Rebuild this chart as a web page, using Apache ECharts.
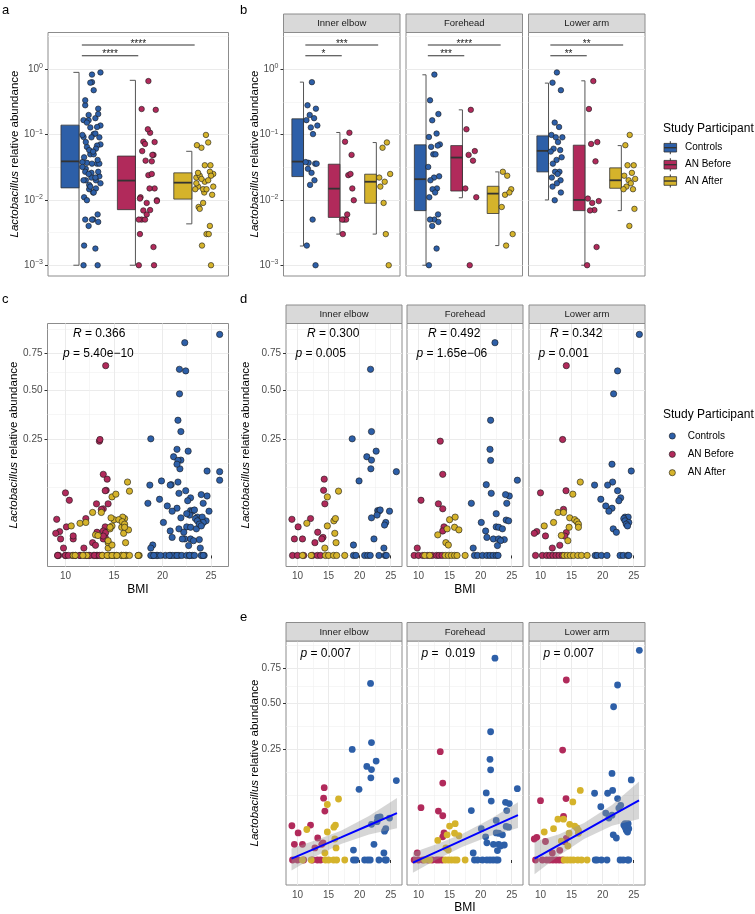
<!DOCTYPE html>
<html><head><meta charset="utf-8">
<script src="https://cdn.jsdelivr.net/npm/echarts@6/dist/echarts.min.js"></script>
<style>html,body{margin:0;padding:0;background:#fff}#c{width:755px;height:914px}</style>
</head><body><div id="c"></div>
<script>
// ---------------- DATA ----------------
const GROUPS = ['Controls', 'AN Before', 'AN After'];
const SITES = ['Inner elbow', 'Forehead', 'Lower arm'];

// [BMI, Lactobacillus relative abundance]
const IE_CONTROLS = [[21.75,0.637],[21.9,0.282],[18.8,0.25],[22.65,0.2],[21.15,0.179],[21.9,0.167],[21.8,0.138],[25.9,0.129],[19.9,0.102],[22.9,0.037],[23.1,0.036],[23.3,0.038],[24.8,0.036],[21.9,0.026],[22.8,0.03],[24.2,0.02],[24.0,0.017],[22.3,0.005],[19.0,0.002],[23.9,0.001],[19.0,0],[19.4,0],[20.8,0],[21.3,0],[21.7,0],[23.1,0],[24.1,0],[24.3,0]];
const IE_BEFORE = [[9.1,0.024],[9.5,0.005],[10.1,0.015],[10.8,0.005],[12.1,0.025],[12.8,0.003],[13.25,0.0099],[14.1,0.006],[14.3,0.107],[14.2,0.078],[14.4,0.049],[13.9,0.005],[9.2,0],[10.0,0],[11.0,0],[12.4,0],[13.2,0],[13.7,0]];
const IE_AFTER = [[11.5,0.019],[14.8,0.016],[14.4,0.001],[14.8,0.063],[16.6,0.076],[15.85,0.022],[16.1,0.025],[16.0,0.009],[16.2,0.003],[10.8,0],[12.2,0],[14.5,0],[15.0,0],[15.8,0],[16.3,0],[17.6,0]];

const FH_CONTROLS = [[22.3,0.832],[21.6,0.336],[21.5,0.207],[21.6,0.166],[25.9,0.104],[20.9,0.092],[21.7,0.071],[18.5,0.05],[24.2,0.05],[24.6,0.065],[24.0,0.068],[22.5,0.032],[24.1,0.023],[24.5,0.022],[20.1,0.02],[22.5,0.015],[22.9,0.0146],[23.5,0.013],[20.8,0.011],[21.0,0.006],[22.05,0.005],[22.9,0.005],[23.8,0.0046],[23.2,0.004],[22.7,0.0018],[18.8,0.001],[19.0,0],[19.5,0],[20.3,0],[21.0,0],[21.5,0],[22.0,0],[22.5,0],[22.8,0]];
const FH_BEFORE = [[13.5,0.24],[13.9,0.121],[10.4,0.056],[13.2,0.049],[13.9,0.04],[14.1,0.015],[13.9,0.011],[9.8,0.001],[9.3,0],[10.0,0],[10.7,0],[11.5,0],[12.2,0],[12.9,0],[13.3,0],[13.8,0]];
const FH_AFTER = [[15.0,0.0235],[15.9,0.027],[15.8,0.0146],[16.5,0.012],[14.6,0.013],[13.1,0.0078],[14.4,0.003],[14.8,0.002],[11.0,0],[11.8,0],[14.3,0],[14.8,0],[15.3,0],[15.8,0],[16.2,0],[17.5,0]];

const LA_CONTROLS = [[25.9,0.898],[22.4,0.626],[21.76,0.48],[21.5,0.153],[24.6,0.131],[21.6,0.099],[18.7,0.091],[20.8,0.091],[22.4,0.077],[22.9,0.061],[19.7,0.058],[22.6,0.055],[20.5,0.045],[21.5,0.041],[21.0,0.036],[23.6,0.027],[24.1,0.027],[23.4,0.025],[23.6,0.022],[24.2,0.02],[23.8,0.018],[24.0,0.016],[21.7,0.013],[22.2,0.0099],[18.8,0],[19.1,0],[19.8,0],[20.7,0],[22.8,0],[23.3,0],[24.0,0],[24.2,0]];
const LA_BEFORE = [[14.15,0.662],[13.56,0.247],[14.1,0.077],[10.0,0.072],[13.7,0.039],[9.4,0.0105],[14.15,0.0096],[9.0,0.009],[10.8,0.007],[13.9,0.0069],[13.1,0.0019],[11.9,0.001],[9.2,0],[10.3,0],[11.0,0],[11.5,0],[12.0,0],[12.5,0],[13.0,0],[13.5,0]];
const LA_AFTER = [[16.4,0.099],[15.2,0.069],[12.8,0.034],[13.7,0.034],[14.7,0.026],[15.5,0.0235],[15.85,0.021],[12.1,0.02],[16.1,0.018],[10.6,0.016],[16.1,0.0146],[14.6,0.0146],[13.35,0.0073],[14.4,0.004],[13.8,0],[14.3,0],[14.8,0],[15.3,0],[16.0,0],[16.6,0],[17.5,0]];

// boxplot statistics [lower whisker, Q1, median, Q3, upper whisker] for Controls, AN Before, AN After
const BOX_ALL = [[0.001,0.0153,0.039,0.14,0.9],[0.001,0.0071,0.0198,0.047,0.68],[0.0043,0.0103,0.0184,0.026,0.0556]];
const BOX_IE = [[0.00197,0.0228,0.0387,0.175,0.638],[0.003,0.0054,0.0149,0.0353,0.108],[0.003,0.0089,0.019,0.0248,0.0757]];
const BOX_FH = [[0.001,0.00686,0.0208,0.0698,0.826],[0.0108,0.0137,0.0446,0.068,0.24],[0.002,0.0062,0.0125,0.0162,0.0269]];
const BOX_LA = [[0.01,0.0269,0.0565,0.0959,0.616],[0.001,0.00686,0.01,0.069,0.668],[0.00686,0.0151,0.02,0.031,0.068]];

// significance brackets: [from group, to group, label]; heights (abundance units)
const SIG_Y = [2.36, 1.62];
const SIG_ALL = [[1,3,'****'],[1,2,'****']];
const SIG_IE = [[1,3,'***'],[1,2,'*']];
const SIG_FH = [[1,3,'****'],[1,2,'***']];
const SIG_LA = [[1,3,'**'],[1,2,'**']];

// linear fit in sqrt scale: [BMI, fit, lower CI, upper CI]
const FIT_IE = [[9.04,0.006,-0.047,0.052],[13,0.054,0.018,0.09],[17,0.102,0.072,0.132],[21.5,0.157,0.115,0.199],[26,0.212,0.144,0.28]];
const FIT_FH = [[9.1,-0.012,-0.058,0.034],[13,0.0376,0.003,0.072],[17,0.0885,0.059,0.118],[21.5,0.146,0.108,0.184],[26,0.203,0.145,0.261]];
const FIT_LA = [[9.04,0.006,-0.064,0.082],[13,0.068,0.02,0.116],[17,0.131,0.095,0.167],[21.5,0.202,0.155,0.249],[25.85,0.27,0.185,0.355]];

// correlation / regression statistics
const STAT_C = ['0.366', '5.40e\u221210'];
const STAT_D = [['0.300','0.005'],['0.492','1.65e\u221206'],['0.342','0.001']];
const STAT_E = ['0.007','0.019','0.007'];

// tick values
const LOG_TICKS = [-3,-2,-1,0];
const LOG_MINOR = [-2.5,-1.5,-0.5,0.5];
const SQRT_TICKS = [0.25,0.5,0.75];
const SQRT_MINOR_T = [0.2929,0.3964,0.6036,0.7866,0.9696]; // minor breaks (sqrt space)
const BMI_TICKS = [10,15,20,25];
const BMI_MINOR = [12.5,17.5,22.5];

// ---------------- STYLE ----------------
const FONT = 'Liberation Sans, Arial, Helvetica, sans-serif';
const COL = ['#2D5FA8','#B12A5B','#D5B32B'];
const JIT = [0.18,0.06,0.29,0.12,0.24,0.03,0.33,0.15,0.21,0.09,0.27,0.01,0.31,0.17,0.07,0.25,0.13,0.2,0.04,0.28];
const BORDER = '#8c8c8c';

const SITE_DATA = [[IE_CONTROLS,IE_BEFORE,IE_AFTER],[FH_CONTROLS,FH_BEFORE,FH_AFTER],[LA_CONTROLS,LA_BEFORE,LA_AFTER]];
const ALL_DATA = [0,1,2].map(g => SITE_DATA[0][g].concat(SITE_DATA[1][g], SITE_DATA[2][g]));
const SITE_BOX = [BOX_IE, BOX_FH, BOX_LA];
const SITE_SIG = [SIG_IE, SIG_FH, SIG_LA];
const SITE_FIT = [FIT_IE, FIT_FH, FIT_LA];

const G = {
  a: {left:48, top:32.5, width:180.5, height:243.5},
  b: [283.5, 406, 528.5].map(l => ({left:l, top:32.5, width:116.5, height:243.5})),
  c: {left:47.5, top:323.5, width:181, height:243},
  d: [286, 407, 529].map(l => ({left:l, top:323.5, width:116, height:243})),
  e: [286, 407, 529].map(l => ({left:l, top:641, width:116, height:244}))
};
const LOG_RANGE = [-3.165, 0.565];
const SQRT_RANGE = [-0.0474, 0.9944];
const SQRT_RANGE_E = [-0.113, 0.99];
const BMI_RANGE = [8.15, 26.81];

const grids = [], xAxes = [], yAxes = [], series = [], graphics = [];
const labelCol = '#4d4d4d';

function addGrid(r) {
  grids.push({left:r.left, top:r.top, width:r.width, height:r.height, show:true, borderColor:BORDER, borderWidth:1, backgroundColor:'rgba(0,0,0,0)'});
  return grids.length - 1;
}
function addYAxes(gi, range, major, minor, show, fmt, rich) {
  const yi = yAxes.length;
  yAxes.push({gridIndex:gi, type:'value', min:range[0], max:range[1], position:'left',
    axisLine:{show:false},
    axisTick:{show:show, length:3, lineStyle:{color:'#333', width:1}, customValues:major},
    axisLabel:{show:show, customValues:major, formatter:fmt, color:labelCol, fontSize:10, margin:5, fontFamily:FONT, rich:rich},
    splitLine:{show:true, lineStyle:{color:'#ebebeb', width:1}}});
  yAxes.push({gridIndex:gi, type:'value', min:range[0], max:range[1], position:'left',
    axisLine:{show:false}, axisTick:{show:false, customValues:minor}, axisLabel:{show:false, customValues:minor},
    splitLine:{show:true, lineStyle:{color:'#f0f0f0', width:0.6}}});
  return yi;
}
function addXAxesBMI(gi) {
  const xi = xAxes.length;
  xAxes.push({gridIndex:gi, type:'value', min:BMI_RANGE[0], max:BMI_RANGE[1],
    axisLine:{show:false},
    axisTick:{show:true, length:3, lineStyle:{color:'#333', width:1}, customValues:BMI_TICKS},
    axisLabel:{show:true, customValues:BMI_TICKS, color:labelCol, fontSize:10, margin:5, fontFamily:FONT},
    splitLine:{show:true, lineStyle:{color:'#ebebeb', width:1}}});
  xAxes.push({gridIndex:gi, type:'value', min:BMI_RANGE[0], max:BMI_RANGE[1],
    axisLine:{show:false}, axisTick:{show:false, customValues:BMI_MINOR}, axisLabel:{show:false, customValues:BMI_MINOR},
    splitLine:{show:true, lineStyle:{color:'#f0f0f0', width:0.6}}});
  return xi;
}
const logFmt = v => { const e = Math.round(v); return '{b|10}{s|' + (e < 0 ? '\u2212' + (-e) : e) + '}'; };
const logRich = {b:{fontSize:10, color:labelCol, lineHeight:12, fontFamily:FONT}, s:{fontSize:7, color:labelCol, lineHeight:8, padding:[0,0,6,0], fontFamily:FONT}};
const sqrtFmt = v => (Math.round(v * v * 100) / 100).toFixed(2);

function boxSeries(xi, yi, stats) {
  return {type:'custom', xAxisIndex:xi, yAxisIndex:yi, z:3, silent:true,
    data: stats.map((s, i) => [i + 1].concat(s.map(v => Math.log10(v)))),
    renderItem(params, api) {
      const c = api.value(0);
      const y = k => api.coord([c, api.value(k)])[1];
      const xl = api.coord([c - 0.37, 0])[0], xr = api.coord([c - 0.05, 0])[0], xcap = api.coord([c - 0.15, 0])[0];
      const lo = y(1), q1 = y(2), md = y(3), q3 = y(4), hi = y(5);
      return {type:'group', children:[
        {type:'polyline', shape:{points:[[xcap,hi],[xr,hi],[xr,lo],[xcap,lo]]}, style:{stroke:'#555', lineWidth:1, fill:'none'}},
        {type:'rect', shape:{x:xl, y:q3, width:xr - xl, height:q1 - q3}, style:{fill:COL[params.dataIndex], stroke:'#333', lineWidth:0.8}},
        {type:'line', shape:{x1:xl, y1:md, x2:xr, y2:md}, style:{stroke:'#333', lineWidth:1.8}}
      ]};
    }};
}
function sigSeries(xi, yi, sig) {
  return {type:'custom', xAxisIndex:xi, yAxisIndex:yi, z:5, silent:true,
    data: sig.map((s, i) => [s[0], s[1], Math.log10(SIG_Y[i])]),
    renderItem(params, api) {
      const p1 = api.coord([api.value(0), api.value(2)]), p2 = api.coord([api.value(1), api.value(2)]);
      return {type:'group', children:[
        {type:'line', shape:{x1:p1[0], y1:p1[1], x2:p2[0], y2:p2[1]}, style:{stroke:'#333', lineWidth:1.1}},
        {type:'text', style:{text:sig[params.dataIndex][2], x:(p1[0] + p2[0]) / 2, y:p1[1] - 1, align:'center', verticalAlign:'middle', fontSize:10, fill:'#222', fontFamily:FONT}}
      ]};
    }};
}
function logPanel(rect, groupsData, box, sig, showY) {
  const gi = addGrid(rect);
  const xi = xAxes.length;
  xAxes.push({gridIndex:gi, type:'value', min:0.4, max:3.6, show:false});
  const yi = addYAxes(gi, LOG_RANGE, LOG_TICKS, LOG_MINOR, showY, logFmt, logRich);
  series.push(boxSeries(xi, yi, box));
  groupsData.forEach((pts, g) => {
    series.push({type:'scatter', xAxisIndex:xi, yAxisIndex:yi, z:4, silent:true,
      data: pts.filter(p => p[1] > 0).map((p, i) => [g + 1 + JIT[i % JIT.length], Math.log10(p[1])]),
      symbolSize:5.5, itemStyle:{color:COL[g], borderColor:'#1a1a1a', borderWidth:0.6, opacity:1}});
  });
  series.push(sigSeries(xi, yi, sig));
}
function sqrtPanel(rect, groupsData, range, showY, outlined) {
  const gi = addGrid(rect);
  const xi = addXAxesBMI(gi);
  const yi = addYAxes(gi, range, SQRT_TICKS.map(Math.sqrt), SQRT_MINOR_T.filter(v => v > range[0] && v < range[1]), showY, sqrtFmt, undefined);
  groupsData.forEach((pts, g) => {
    series.push({type:'scatter', xAxisIndex:xi, yAxisIndex:yi, z:4, silent:true,
      data: pts.map(p => [p[0], Math.sqrt(p[1])]),
      symbolSize: outlined ? 6.3 : 6.8,
      itemStyle: outlined ? {color:COL[g], borderColor:'#1a1a1a', borderWidth:0.6, opacity:1} : {color:COL[g], opacity:1}});
  });
  return {xi, yi};
}

// ---- panel a ----
logPanel(G.a, ALL_DATA, BOX_ALL, SIG_ALL, true);
// ---- panel b ----
[0,1,2].forEach(s => logPanel(G.b[s], SITE_DATA[s], SITE_BOX[s], SITE_SIG[s], s === 0));
// ---- panel c ----
sqrtPanel(G.c, ALL_DATA, SQRT_RANGE, true, true);
// ---- panel d ----
[0,1,2].forEach(s => sqrtPanel(G.d[s], SITE_DATA[s], SQRT_RANGE, s === 0, true));
// ---- panel e ----
[0,1,2].forEach(s => {
  const ax = sqrtPanel(G.e[s], SITE_DATA[s], SQRT_RANGE_E, s === 0, false);
  const fit = SITE_FIT[s];
  series.push({type:'custom', xAxisIndex:ax.xi, yAxisIndex:ax.yi, z:6, silent:true, data:fit,
    renderItem(params, api) {
      if (params.dataIndex !== 0) return null;
      const up = fit.map(r => api.coord([r[0], r[3]]));
      const dn = fit.map(r => api.coord([r[0], r[2]])).reverse();
      return {type:'polygon', shape:{points:up.concat(dn)}, style:{fill:'rgba(153,153,153,0.4)'}};
    }});
  series.push({type:'line', xAxisIndex:ax.xi, yAxisIndex:ax.yi, z:7, silent:true, data:fit.map(r => [r[0], r[1]]),
    showSymbol:false, symbol:'none', lineStyle:{color:'#0000FF', width:2}});
});

// ---------------- TEXT / DECORATION ----------------
function txt(x, y, text, opt) {
  graphics.push(Object.assign({type:'text', x:x, y:y, z:100, silent:true,
    style:Object.assign({text:text, fontFamily:FONT, fontSize:12, fill:'#000', align:'left', verticalAlign:'middle'}, opt && opt.style)}, opt && opt.el));
}
const italicRich = {i:{fontStyle:'italic', fontFamily:FONT}};
function strip(r, top, h, label) {
  graphics.push({type:'rect', z:100, silent:true, shape:{x:r.left, y:top, width:r.width, height:h}, style:{fill:'#d9d9d9', stroke:BORDER, lineWidth:1}});
  txt(r.left + r.width / 2, top + h / 2 + 0.5, label, {style:{fontSize:9.5, fill:'#1a1a1a', align:'center'}});
}
[0,1,2].forEach(s => { strip(G.b[s], 14, 18.5, SITES[s]); strip(G.d[s], 305, 18.5, SITES[s]); strip(G.e[s], 622.5, 18.5, SITES[s]); });

// panel letters
txt(2, 10, 'a', {style:{fontSize:13}}); txt(240, 10, 'b', {style:{fontSize:13}});
txt(2, 299, 'c', {style:{fontSize:13}}); txt(240, 299, 'd', {style:{fontSize:13}});
txt(240, 617, 'e', {style:{fontSize:13}});

// y-axis titles
const yTitle = '{i|Lactobacillus} relative abundance';
[[15,154],[255,154],[14,445],[246,445],[255,763]].forEach(p =>
  txt(p[0], p[1], yTitle, {el:{rotation:Math.PI / 2}, style:{fontSize:11.5, align:'center', rich:{i:{fontStyle:'italic', fontSize:11.5, fontFamily:FONT}}}}));
// x-axis titles
[[138,590],[465,590],[465,908]].forEach(p => txt(p[0], p[1], 'BMI', {style:{fontSize:12, align:'center'}}));

// correlation text
txt(G.c.left + 25.5, 334, '{i|R} = ' + STAT_C[0], {style:{rich:italicRich}});
txt(G.c.left + 15.5, 354, '{i|p} = ' + STAT_C[1], {style:{rich:italicRich}});
[0,1,2].forEach(s => {
  txt(G.d[s].left + 21, 334, '{i|R} = ' + STAT_D[s][0], {style:{rich:italicRich}});
  txt(G.d[s].left + 9.5, 354, '{i|p} = ' + STAT_D[s][1], {style:{rich:italicRich}});
  txt(G.e[s].left + 14.5, 654, '{i|p} = ' + (s === 1 ? ' ' : '') + STAT_E[s], {style:{rich:italicRich}});
});

// legend 1 (boxplot keys)
txt(663, 129, 'Study Participant', {style:{fontSize:12}});
[147.7, 164.7, 181].forEach((yc, g) => {
  graphics.push({type:'line', z:100, silent:true, shape:{x1:670.3, y1:yc - 6.5, x2:670.3, y2:yc + 6.5}, style:{stroke:'#333', lineWidth:1}});
  graphics.push({type:'rect', z:101, silent:true, shape:{x:664, y:yc - 4.3, width:12.6, height:8.6}, style:{fill:COL[g], stroke:'#333', lineWidth:0.8}});
  graphics.push({type:'line', z:102, silent:true, shape:{x1:664, y1:yc, x2:676.6, y2:yc}, style:{stroke:'#333', lineWidth:1.4}});
  txt(685, yc, GROUPS[g], {style:{fontSize:10}});
});
// legend 2 (point keys)
txt(663, 415, 'Study Participant', {style:{fontSize:12}});
[436, 454.3, 472.7].forEach((yc, g) => {
  graphics.push({type:'circle', z:100, silent:true, shape:{cx:672.3, cy:yc, r:3.1}, style:{fill:COL[g], stroke:'#1a1a1a', lineWidth:0.6}});
  txt(687.7, yc, GROUPS[g], {style:{fontSize:10}});
});

const chart = echarts.init(document.getElementById('c'), null, {renderer:'canvas'});
chart.setOption({
  animation:false,
  backgroundColor:'#fff',
  textStyle:{fontFamily:FONT},
  grid:grids, xAxis:xAxes, yAxis:yAxes, series:series, graphic:graphics
});
</script></body></html>
